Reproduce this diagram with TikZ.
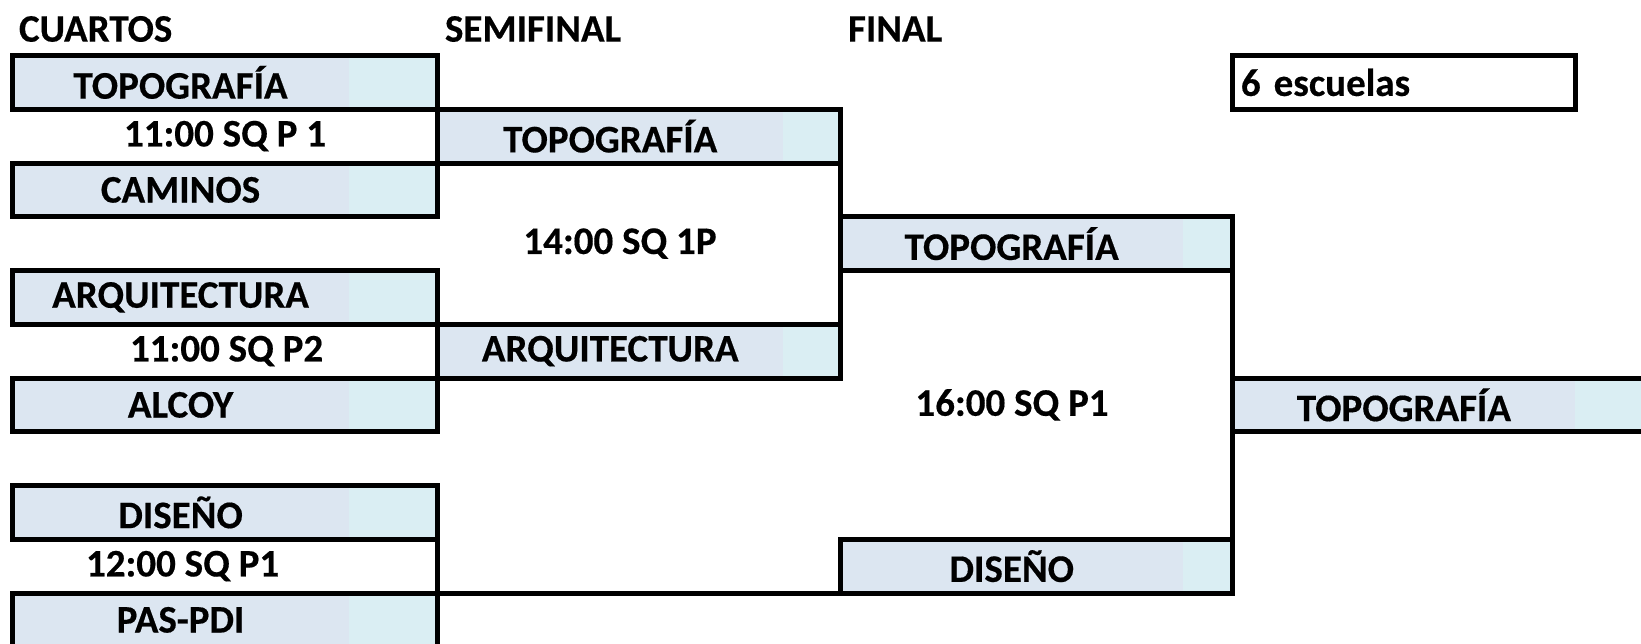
\documentclass[tikz,border=0pt]{standalone}
\usepackage{fontspec}
\setmainfont{Carlito}[BoldFeatures={FakeBold=0.4}]
\usetikzlibrary{positioning}
\definecolor{celda}{HTML}{DCE6F1}
\definecolor{celeste}{HTML}{DAEEF3}
\begin{document}
\begin{tikzpicture}[x=0.5pt,y=-0.5pt,
	every node/.style={font=\bfseries\fontsize{19.5}{23}\selectfont,inner sep=0,outer sep=0},
	equipo/.style={fill=celda,anchor=north west,minimum height=26.875pt,minimum width=#1},
	pest/.style={fill=celeste,minimum height=26.875pt,right=0pt of #1},
	linea/.style={line width=2.5pt,line cap=rect}]
\useasboundingbox (0,0) rectangle (1641,643);
% cabeceras
\node[anchor=west] (cuartos) at (19,29) {CUARTOS};
\node[anchor=west] (semi) at (445,29) {SEMIFINAL};
\node[anchor=west] (final) at (848,29) {FINAL};
\node[draw,line width=2.5pt,anchor=north west,minimum width=171.05pt,minimum height=26.875pt,
	text width=163.05pt,align=left,inner xsep=4pt] (esc) at (1232.9,55.5) {6 escuelas};
% cuartos
\node[equipo=167.95pt] (q1) at (12.6,55.5) {TOPOGRAFÍA};
\node[pest=q1,minimum width=44.5pt] (q1t) {};
\node[equipo=167.95pt] (q2) at (12.6,163) {CAMINOS};
\node[pest=q2,minimum width=44.5pt] (q2t) {};
\node[equipo=167.95pt] (q3) at (12.6,270.5) {ARQUITECTURA};
\node[pest=q3,minimum width=44.5pt] (q3t) {};
\node[equipo=167.95pt] (q4) at (12.6,378) {ALCOY};
\node[pest=q4,minimum width=44.5pt] (q4t) {};
\node[equipo=167.95pt] (q5) at (12.6,485.5) {DISEÑO};
\node[pest=q5,minimum width=44.5pt] (q5t) {};
\node[equipo=167.95pt] (q6) at (12.6,593) {PAS-PDI};
\node[pest=q6,minimum width=44.5pt] (q6t) {};
% semifinal
\node[equipo=172.75pt] (s1) at (437.5,109.25) {TOPOGRAFÍA};
\node[pest=s1,minimum width=28.7pt] (s1t) {};
\node[equipo=172.75pt] (s2) at (437.5,324.25) {ARQUITECTURA};
\node[pest=s2,minimum width=28.7pt] (s2t) {};
% final
\node[equipo=171.3pt] (f1) at (840.4,216.75) {TOPOGRAFÍA};
\node[pest=f1,minimum width=24.95pt] (f1t) {};
\node[equipo=171.3pt] (f2) at (840.4,539.25) {DISEÑO};
\node[pest=f2,minimum width=24.95pt] (f2t) {};
% ganador
\node[equipo=171.05pt] (g) at (1232.9,378) {TOPOGRAFÍA};
\node[pest=g,minimum width=37.5pt] (gt) {};
% horarios
\node (h1) at (225,136.1) {11:00 SQ P 1};
\node (h2) at (226.6,351.1) {11:00 SQ P2};
\node (h3) at (182.6,566.1) {12:00 SQ P1};
\node (h4) at (620,243.6) {14:00 SQ 1P};
\node (h5) at (1012,404.9) {16:00 SQ P1};
% marcos
\foreach \e in {q1,q2,q3,q4,q5,q6,s1,s2,f1,f2,g}
	\draw[linea] (\e.north west) rectangle (\e t.south east);
% cuadro
\draw[linea] (q1t.north east) -- (q2t.south east);
\draw[linea] (q3t.north east) -- (q4t.south east);
\draw[linea] (q5t.north east) -- (q6t.south east);
\draw[linea] (s1t.north east) -- (s2t.south east);
\draw[linea] (f1t.north east) -- (f2t.south east);
\draw[linea] (q6t.north east) -- (f2.south west);
\end{tikzpicture}
\end{document}
